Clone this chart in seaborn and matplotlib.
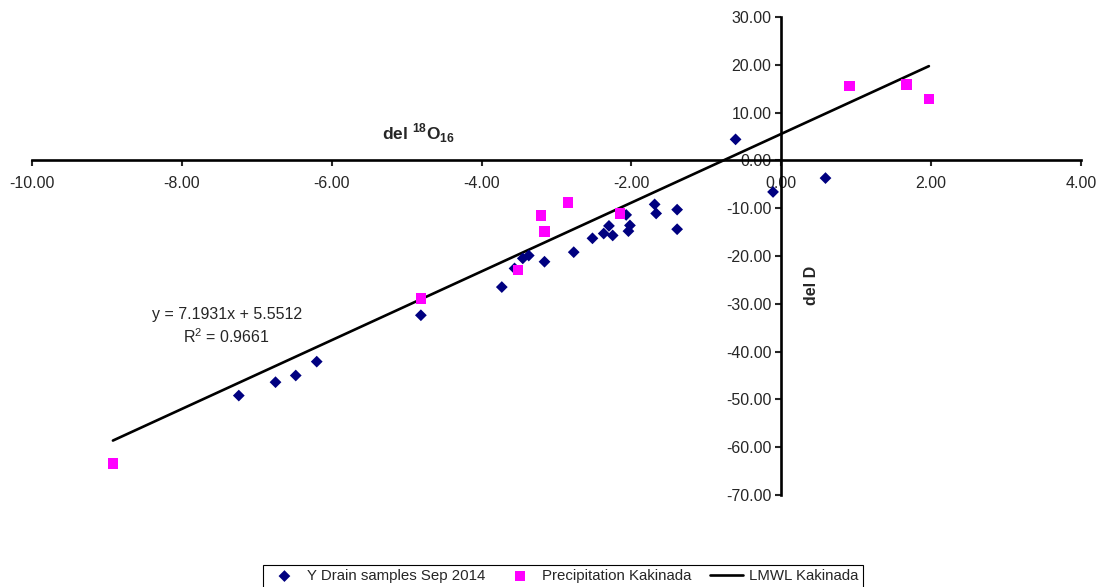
import numpy as np
import matplotlib
matplotlib.use("Agg")
import matplotlib.pyplot as plt
import seaborn as sns

# Y Drain samples Sep 2014 (del 18O, del D)
drain_o18 = [-7.24, -6.75, -6.48, -6.20, -4.81, -3.73, -3.56, -3.45, -3.37, -3.16,
             -2.77, -2.52, -2.37, -2.30, -2.25, -2.07, -2.04, -2.02, -1.69, -1.67,
             -1.39, -1.39, -0.61, -0.11, 0.59]
drain_dD = [-49.2, -46.4, -45.0, -42.1, -32.4, -26.5, -22.6, -20.5, -19.9, -21.2,
            -19.2, -16.3, -15.3, -13.7, -15.7, -11.4, -14.8, -13.6, -9.2, -11.1,
            -10.3, -14.4, 4.4, -6.6, -3.7]

# Precipitation Kakinada
precip_o18 = [-8.92, -4.81, -3.51, -3.21, -3.16, -2.85, -2.15, 0.91, 1.67, 1.97]
precip_dD = [-63.4, -28.9, -23.0, -11.5, -14.9, -8.8, -11.1, 15.5, 15.9, 12.8]

# LMWL Kakinada trendline
slope = 7.1931
intercept = 5.5512
r2 = 0.9661

x_ticks = np.arange(-10, 5, 2)
y_ticks = np.arange(-70, 31, 10)

sns.set_style("white")
plt.rcParams['font.family'] = ['Liberation Sans', 'DejaVu Sans']
plt.rcParams['mathtext.fontset'] = 'custom'
plt.rcParams['mathtext.rm'] = 'Liberation Sans'
plt.rcParams['mathtext.bf'] = 'Liberation Sans:bold'

fig = plt.figure(figsize=(11.04, 5.87), dpi=100)
ax = fig.add_axes([32 / 1104, 1 - 495 / 587, 1049 / 1104, 478 / 587])

all_x = drain_o18 + precip_o18
line_x = np.array([min(all_x), max(all_x)])
line_y = slope * line_x + intercept

sns.scatterplot(x=drain_o18, y=drain_dD, marker='D', s=36, color='#000080',
                edgecolor='none', label='Y Drain samples Sep 2014', ax=ax, zorder=3)
sns.scatterplot(x=precip_o18, y=precip_dD, marker='s', s=55, color='#FF00FF',
                edgecolor='none', label='Precipitation Kakinada', ax=ax, zorder=3)
sns.lineplot(x=line_x, y=line_y, color='black', linewidth=1.9,
             label='LMWL Kakinada', ax=ax, zorder=2)

ax.set_xlim(-10, 4)
ax.set_ylim(-70, 30)
ax.set_xticks(x_ticks)
ax.set_yticks(y_ticks)
ax.set_xticklabels([f"{v:.2f}" for v in x_ticks])
ax.set_yticklabels([f"{v:.2f}" for v in y_ticks])

ax.spines['left'].set_position(('data', 0))
ax.spines['bottom'].set_position(('data', 0))
ax.spines['right'].set_visible(False)
ax.spines['top'].set_visible(False)
for s in ['left', 'bottom']:
    ax.spines[s].set_linewidth(1.9)
    ax.spines[s].set_color('black')

ax.tick_params(axis='x', direction='out', length=4, width=1.5, pad=7.5,
               labelsize=11.5, bottom=True)
ax.tick_params(axis='y', direction='out', length=4, width=1.5, pad=3,
               labelsize=11.5, left=True)

ax.set_xlabel(r"del $^{\mathbf{18}}$O$_{\mathbf{16}}$", fontsize=12.5,
              fontweight='bold')
ax.xaxis.set_label_coords((418 - 32) / 1049, (495 - 133) / 478)
ax.xaxis.label.set_va('center')
ax.set_ylabel("del D", fontsize=11.5, fontweight='bold')
ax.yaxis.set_label_coords((812 - 32) / 1049, (495 - 285) / 478)
ax.yaxis.label.set_va('center')

ax.text(-7.40, -32.3, f"y = {slope}x + {intercept}", fontsize=11.5,
        ha='center', va='center')
ax.text(-7.40, -36.9, f"R$^{{2}}$ = {r2}", fontsize=11.5, ha='center', va='center')

ax.legend(loc='center', bbox_to_anchor=(563 / 1104, 1 - 576 / 587),
          bbox_transform=fig.transFigure, ncol=3, frameon=True, fancybox=False,
          edgecolor='black', framealpha=1, fontsize=10.8, handlelength=2.2,
          handletextpad=0.4, columnspacing=1.2, borderpad=0.3)
ax.get_legend().get_frame().set_linewidth(0.8)

fig.savefig("out.png", dpi=100)
